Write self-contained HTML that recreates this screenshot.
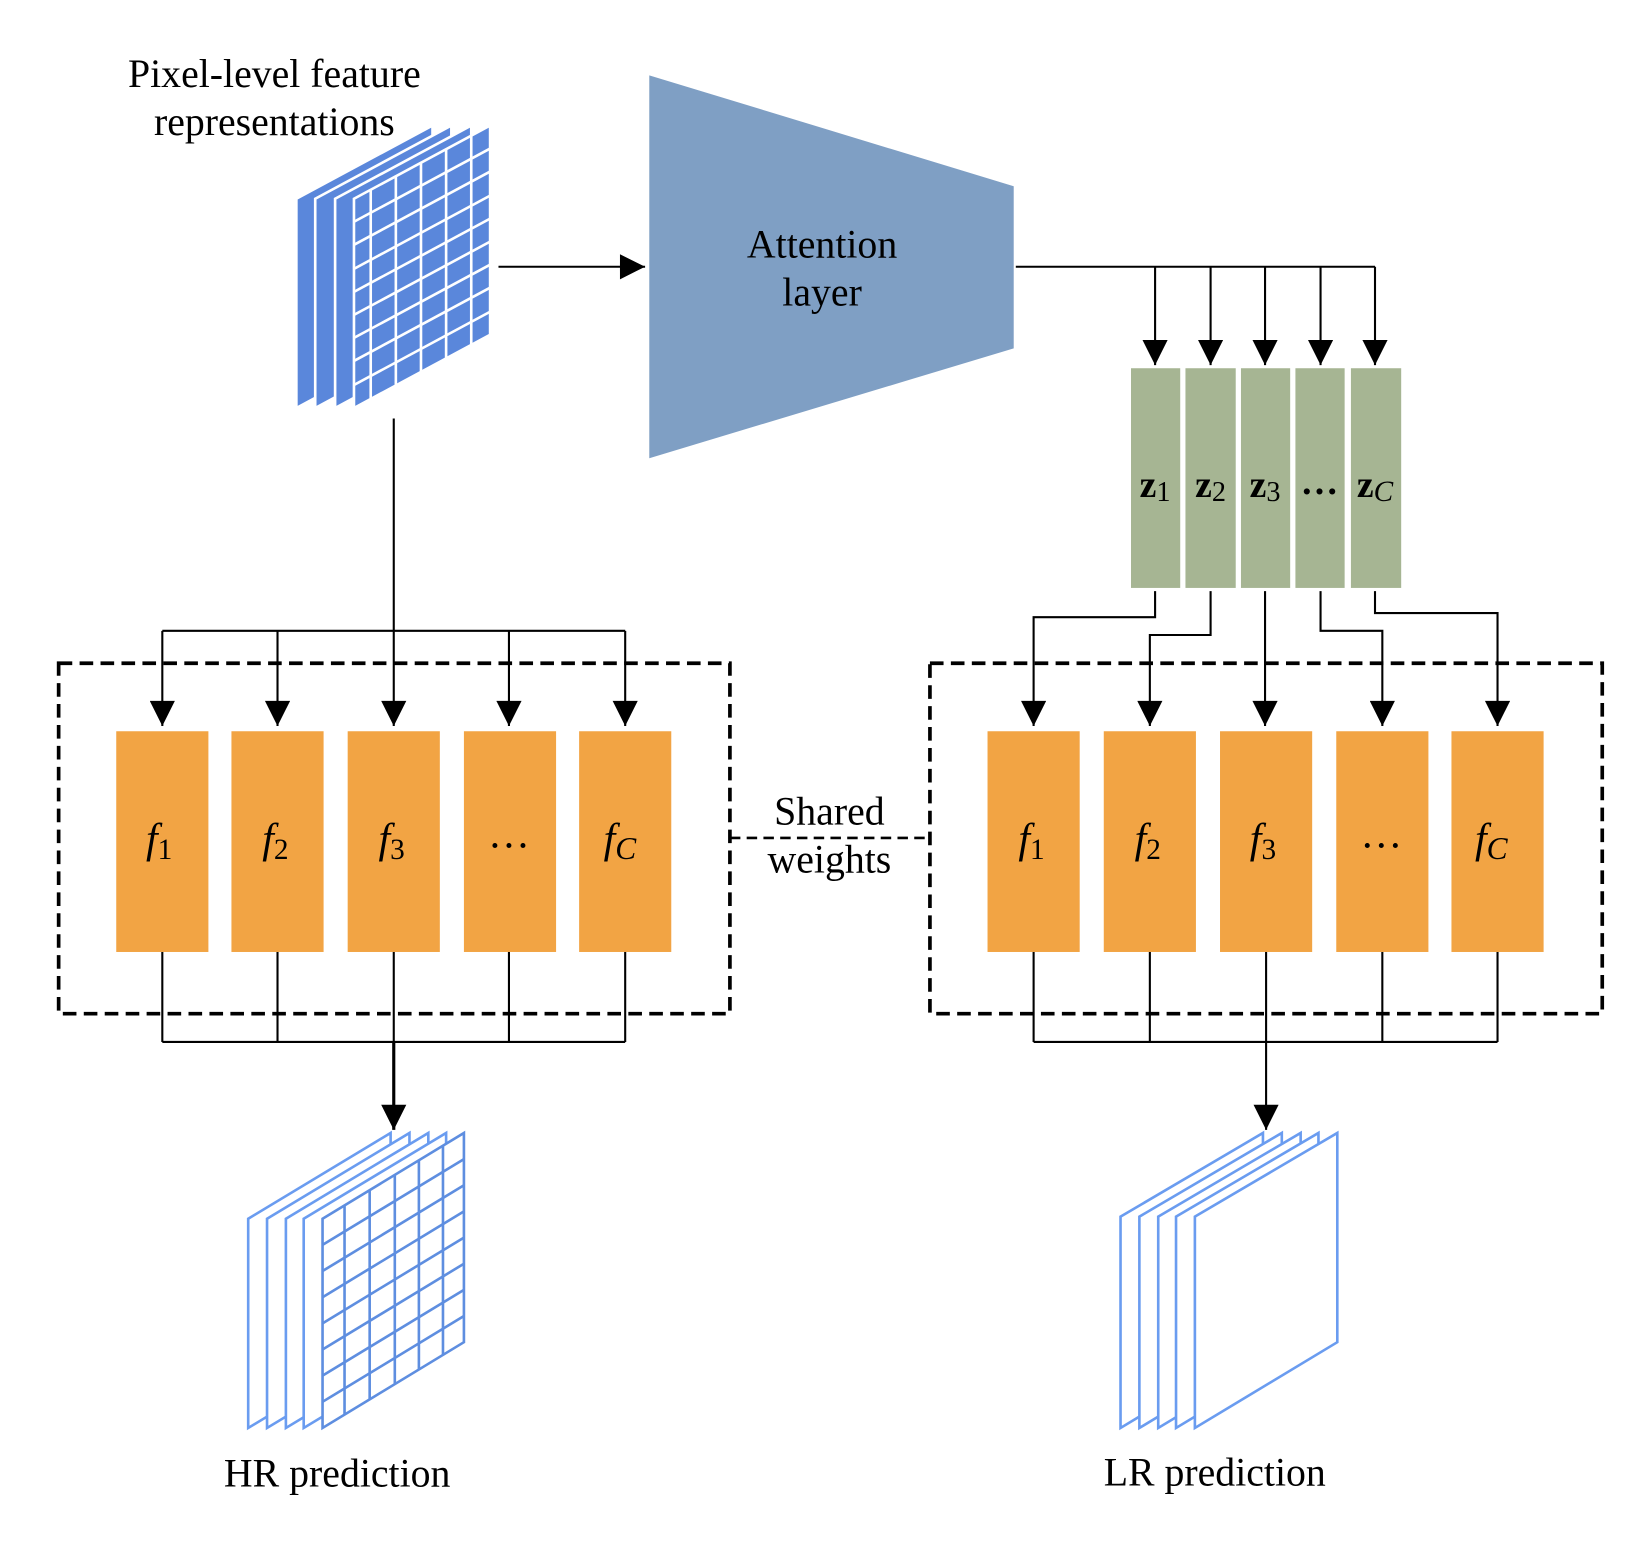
<!DOCTYPE html>
<html><head><meta charset="utf-8"><style>html,body{margin:0;padding:0;background:#fff}svg{display:block}</style></head>
<body>
<svg width="1641" height="1542" viewBox="0 0 1567 1474" preserveAspectRatio="none" xmlns="http://www.w3.org/2000/svg" font-family="'Liberation Serif', serif">
<defs>
<marker id="a2" viewBox="0 0 10 10" refX="10" refY="5" markerWidth="26" markerHeight="24" orient="auto" markerUnits="userSpaceOnUse"><path d="M0,0 L10,5 L0,10 z" fill="#000"/></marker>
</defs>

<text x="262" y="83" font-size="38" text-anchor="middle">Pixel-level feature</text>
<text x="262" y="129" font-size="38" text-anchor="middle">representations</text>

<g fill="#5a87db" stroke="#fff" stroke-width="2.5">
<polygon points="283,190 413,120 413,320 283,390"/>
<polygon points="301,190 431,120 431,320 301,390"/>
<polygon points="320,190 450,120 450,320 320,390"/>
<polygon points="338,190 468,120 468,320 338,390"/>
</g>
<g stroke="#fff" stroke-width="2.5">
<line x1="354" y1="181.4" x2="354" y2="381.4"/>
<line x1="378" y1="168.5" x2="378" y2="368.5"/>
<line x1="402" y1="155.5" x2="402" y2="355.5"/>
<line x1="426" y1="142.6" x2="426" y2="342.6"/>
<line x1="450" y1="129.7" x2="450" y2="329.7"/>
<line x1="338" y1="212" x2="468" y2="142"/>
<line x1="338" y1="234" x2="468" y2="164"/>
<line x1="338" y1="257" x2="468" y2="187"/>
<line x1="338" y1="279" x2="468" y2="209"/>
<line x1="338" y1="301" x2="468" y2="231"/>
<line x1="338" y1="323" x2="468" y2="253"/>
<line x1="338" y1="345" x2="468" y2="275"/>
<line x1="338" y1="368" x2="468" y2="298"/>
</g>

<polygon points="620,72 968,178 968,333 620,438" fill="#7f9fc4"/>
<text x="785" y="246" font-size="38" text-anchor="middle">Attention</text>
<text x="785" y="292" font-size="38" text-anchor="middle">layer</text>

<g stroke="#000" stroke-width="2" fill="none">
<line x1="476" y1="255" x2="616" y2="255" marker-end="url(#a2)"/>
<polyline points="970,255 1313,255"/>
<line x1="1103" y1="255" x2="1103" y2="349" marker-end="url(#a2)"/>
<line x1="1156" y1="255" x2="1156" y2="349" marker-end="url(#a2)"/>
<line x1="1208" y1="255" x2="1208" y2="349" marker-end="url(#a2)"/>
<line x1="1261" y1="255" x2="1261" y2="349" marker-end="url(#a2)"/>
<line x1="1313" y1="255" x2="1313" y2="349" marker-end="url(#a2)"/>

<polyline points="1103,565 1103,590 987,590 987,694" marker-end="url(#a2)"/>
<polyline points="1156,565 1156,607 1098,607 1098,694" marker-end="url(#a2)"/>
<polyline points="1208,565 1208,694" marker-end="url(#a2)"/>
<polyline points="1261,565 1261,603 1320,603 1320,694" marker-end="url(#a2)"/>
<polyline points="1313,565 1313,586 1430,586 1430,694" marker-end="url(#a2)"/>

<line x1="376" y1="400" x2="376" y2="603"/>
<line x1="155" y1="603" x2="597" y2="603"/>
<line x1="155" y1="603" x2="155" y2="694" marker-end="url(#a2)"/>
<line x1="265" y1="603" x2="265" y2="694" marker-end="url(#a2)"/>
<line x1="376" y1="603" x2="376" y2="694" marker-end="url(#a2)"/>
<line x1="486" y1="603" x2="486" y2="694" marker-end="url(#a2)"/>
<line x1="597" y1="603" x2="597" y2="694" marker-end="url(#a2)"/>

<line x1="155" y1="910" x2="155" y2="996"/>
<line x1="265" y1="910" x2="265" y2="996"/>
<line x1="376" y1="910" x2="376" y2="996"/>
<line x1="486" y1="910" x2="486" y2="996"/>
<line x1="597" y1="910" x2="597" y2="996"/>
<line x1="155" y1="996" x2="597" y2="996"/>
<line x1="376" y1="996" x2="376" y2="1080" marker-end="url(#a2)" stroke-width="3"/>
<line x1="987" y1="910" x2="987" y2="996"/>
<line x1="1098" y1="910" x2="1098" y2="996"/>
<line x1="1209" y1="910" x2="1209" y2="996"/>
<line x1="1320" y1="910" x2="1320" y2="996"/>
<line x1="1430" y1="910" x2="1430" y2="996"/>
<line x1="987" y1="996" x2="1430" y2="996"/>
<line x1="1209" y1="996" x2="1209" y2="1080" marker-end="url(#a2)"/>
</g>

<g fill="#a6b593">
<rect x="1080" y="352" width="47" height="210"/>
<rect x="1132" y="352" width="48" height="210"/>
<rect x="1185" y="352" width="47" height="210"/>
<rect x="1237" y="352" width="47" height="210"/>
<rect x="1290" y="352" width="48" height="210"/>
</g>
<g font-size="36" font-weight="bold" text-anchor="middle">
<text x="1103" y="475">z<tspan font-weight="normal" font-size="27" dy="4">1</tspan></text>
<text x="1156" y="475">z<tspan font-weight="normal" font-size="27" dy="4">2</tspan></text>
<text x="1208" y="475">z<tspan font-weight="normal" font-size="27" dy="4">3</tspan></text>
<text x="1260" y="472">…</text>
<text x="1313" y="475">z<tspan font-weight="normal" font-style="italic" font-size="28" dy="4">C</tspan></text>
</g>

<g fill="none" stroke="#000" stroke-width="3.5" stroke-dasharray="13,7">
<rect x="56" y="634" width="641" height="335"/>
<rect x="888" y="634" width="642" height="335"/>
</g>
<line x1="697" y1="801" x2="888" y2="801" stroke="#000" stroke-width="2.5" stroke-dasharray="10,6"/>
<text x="792" y="788" font-size="38" text-anchor="middle">Shared</text>
<text x="792" y="834" font-size="38" text-anchor="middle">weights</text>

<g fill="#f2a444">
<rect x="111" y="699" width="88" height="211"/>
<rect x="221" y="699" width="88" height="211"/>
<rect x="332" y="699" width="88" height="211"/>
<rect x="443" y="699" width="88" height="211"/>
<rect x="553" y="699" width="88" height="211"/>
<rect x="943" y="699" width="88" height="211"/>
<rect x="1054" y="699" width="88" height="211"/>
<rect x="1165" y="699" width="88" height="211"/>
<rect x="1276" y="699" width="88" height="211"/>
<rect x="1386" y="699" width="88" height="211"/>
</g>
<g font-size="40" text-anchor="middle" font-style="italic">
<text x="152" y="815">f<tspan font-style="normal" font-size="28" dy="6">1</tspan></text>
<text x="263" y="815">f<tspan font-style="normal" font-size="28" dy="6">2</tspan></text>
<text x="374" y="815">f<tspan font-style="normal" font-size="28" dy="6">3</tspan></text>
<text x="486" y="810" font-style="normal">…</text>
<text x="592" y="815">f<tspan font-size="30" dy="6">C</tspan></text>
<text x="985" y="815">f<tspan font-style="normal" font-size="28" dy="6">1</tspan></text>
<text x="1096" y="815">f<tspan font-style="normal" font-size="28" dy="6">2</tspan></text>
<text x="1206" y="815">f<tspan font-style="normal" font-size="28" dy="6">3</tspan></text>
<text x="1319" y="810" font-style="normal">…</text>
<text x="1424" y="815">f<tspan font-size="30" dy="6">C</tspan></text>
</g>

<g fill="#fff" stroke="#6a9cf0" stroke-width="2.5">
<polygon points="237,1165 373,1083 373,1283 237,1365"/>
<polygon points="255,1165 391,1083 391,1283 255,1365"/>
<polygon points="273,1165 409,1083 409,1283 273,1365"/>
<polygon points="290,1165 426,1083 426,1283 290,1365"/>
<polygon points="308,1165 443,1083 443,1283 308,1365" stroke="#5e8ee0"/>
</g>
<g stroke="#5e8ee0" stroke-width="2.5">
<line x1="329" y1="1152.2" x2="329" y2="1352.2"/>
<line x1="353" y1="1137.7" x2="353" y2="1337.7"/>
<line x1="377" y1="1123.1" x2="377" y2="1323.1"/>
<line x1="400" y1="1109.1" x2="400" y2="1309.1"/>
<line x1="423" y1="1095.1" x2="423" y2="1295.1"/>
<line x1="308" y1="1190" x2="443" y2="1108"/>
<line x1="308" y1="1215" x2="443" y2="1133"/>
<line x1="308" y1="1240" x2="443" y2="1158"/>
<line x1="308" y1="1265" x2="443" y2="1183"/>
<line x1="308" y1="1290" x2="443" y2="1208"/>
<line x1="308" y1="1315" x2="443" y2="1233"/>
<line x1="308" y1="1340" x2="443" y2="1258"/>
</g>

<g fill="#fff" stroke="#6a9cf0" stroke-width="2.5">
<polygon points="1070,1163 1206,1083 1206,1283 1070,1365"/>
<polygon points="1088,1163 1224,1083 1224,1283 1088,1365"/>
<polygon points="1106,1163 1242,1083 1242,1283 1106,1365"/>
<polygon points="1123,1163 1259,1083 1259,1283 1123,1365"/>
<polygon points="1141,1163 1277,1083 1277,1283 1141,1365"/>
</g>

<text x="322" y="1421" font-size="38" text-anchor="middle">HR prediction</text>
<text x="1160" y="1420" font-size="38" text-anchor="middle">LR prediction</text>
</svg>
</body></html>
